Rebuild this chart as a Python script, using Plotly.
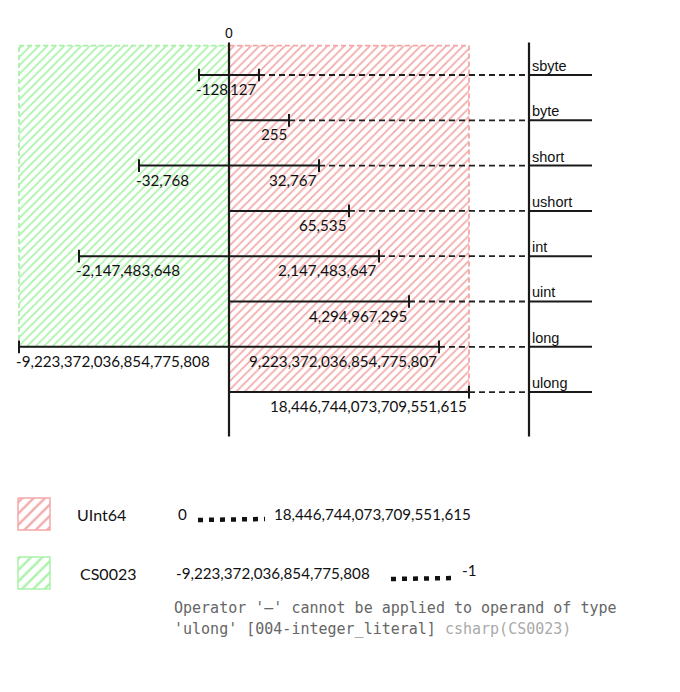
import plotly.graph_objects as go

# ---- data ----
types = ["sbyte", "byte", "short", "ushort", "int", "uint", "long", "ulong"]
mins = [-128, 0, -32768, 0, -2147483648, 0, -9223372036854775808, 0]
maxs = [127, 255, 32767, 65535, 2147483647, 4294967295,
        9223372036854775807, 18446744073709551615]
legend_names = ["UInt64", "CS0023"]
legend_ranges = [("0", "18,446,744,073,709,551,615"),
                 ("-9,223,372,036,854,775,808", "-1")]
error_line1 = "Operator '\u2013' cannot be applied to operand of type"
error_line2 = "'ulong' [004-integer_literal] "
error_src = "csharp(CS0023)"

# ---- ordinal (rank) scale: each distinct magnitude gets one step ----
sorted_max = sorted(maxs)
rank = {v: i + 1 for i, v in enumerate(sorted_max)}
pos_max = [rank[m] for m in maxs]
pos_min = [(-rank[M] if m < 0 else 0) for m, M in zip(mins, maxs)]
rows = list(range(len(types)))
right_axis = max(pos_max) + 2
W, H = 680, 692

RED = "#f09c9c"
GREEN = "#9cf09c"
RED_EDGE = "#f2a8a8"
GREEN_EDGE = "#a8f2a8"
INK = "#1a1a1a"

fig = go.Figure()

# background regions
neg_rows = [r for r, m in zip(rows, mins) if m < 0]
top = -0.65
gx0 = min(pos_min)
gy1 = max(neg_rows)
PAT = dict(shape="/", fgopacity=0.85, bgcolor="white", size=6, solidity=0.3)
fig.add_trace(go.Scatter(
    x=[gx0, 0, 0, gx0, gx0], y=[top, top, gy1, gy1, top], mode="lines",
    fill="toself", fillcolor="rgba(0,0,0,0)",
    fillpattern=dict(fgcolor=GREEN, **PAT),
    line=dict(color=GREEN_EDGE, width=1.8, dash="5px,3px"), hoverinfo="skip", showlegend=False))
rx1 = max(pos_max)
ry1 = max(rows)
fig.add_trace(go.Scatter(
    x=[0, rx1, rx1, 0, 0], y=[top, top, ry1, ry1, top], mode="lines",
    fill="toself", fillcolor="rgba(0,0,0,0)",
    fillpattern=dict(fgcolor=RED, **PAT),
    line=dict(color=RED_EDGE, width=1.8, dash="5px,3px"), hoverinfo="skip", showlegend=False))

# dashed leaders from max to right axis
dx, dy = [], []
for r, pm in zip(rows, pos_max):
    dx += [pm, right_axis, None]
    dy += [r, r, None]
fig.add_trace(go.Scatter(x=dx, y=dy, mode="lines",
                         line=dict(color="#222", width=1.8, dash="6px,4px"),
                         hoverinfo="skip", showlegend=False))

# range bars
bx, by = [], []
for r, a, b in zip(rows, pos_min, pos_max):
    bx += [a, b, None]
    by += [r, r, None]
    for p in ([a, b] if a != 0 else [b]):
        bx += [p, p, None]
        by += [r - 0.14, r + 0.14, None]
fig.add_trace(go.Scatter(x=bx, y=by, mode="lines", line=dict(color=INK, width=2),
                         hoverinfo="skip", showlegend=False))

# axes lines (zero axis and category axis)
ax_top, ax_bot = -0.72, max(rows) + 0.98
fig.add_trace(go.Scatter(x=[0, 0, None, right_axis, right_axis],
                         y=[ax_top, ax_bot, None, ax_top, ax_bot], mode="lines",
                         line=dict(color=INK, width=2.2), hoverinfo="skip", showlegend=False))
# category tick lines
tx, ty = [], []
for r in rows:
    tx += [right_axis, right_axis + 2.1, None]
    ty += [r, r, None]
fig.add_trace(go.Scatter(x=tx, y=ty, mode="lines", line=dict(color=INK, width=2),
                         hoverinfo="skip", showlegend=False))

ann = []
LBL = dict(family="Lato, Open Sans, sans-serif", size=15.2, color="#111")
CAT = dict(family="Liberation Sans, Arial", size=14.5, color="#111")
for r, m, M, a, b, t in zip(rows, mins, maxs, pos_min, pos_max, types):
    ann.append(dict(x=b, y=r + 0.31, text=f"{M:,}", xanchor="right", yanchor="middle",
                    xshift=0, showarrow=False, font=LBL))
    if m < 0:
        ann.append(dict(x=a, y=r + 0.31, text=f"{m:,}", xanchor="left", yanchor="middle",
                        xshift=-5, showarrow=False, font=LBL))
    ann.append(dict(x=right_axis, y=r - 0.2, text=t, xanchor="left", yanchor="middle",
                    xshift=1, showarrow=False, font=CAT))
ann.append(dict(x=0, y=-0.93, text="0", xanchor="center", yanchor="middle", showarrow=False,
                font=dict(family="Liberation Sans, Arial", size=14, color="#111")))

# ---- legend (paper coordinates) ----
def px(x):
    return x / W

def py(y):
    return 1 - y / H

shapes = []
leg_y = [514, 573]
leg_cols = [(RED, RED_EDGE), (GREEN, GREEN_EDGE)]
for i, name in enumerate(legend_names):
    yc = leg_y[i]
    fig.add_trace(go.Scatter(
        x=[px(18), px(50), px(50), px(18), px(18)],
        y=[py(yc - 16), py(yc - 16), py(yc + 16), py(yc + 16), py(yc - 16)],
        xaxis="x2", yaxis="y2", mode="lines", fill="toself", fillcolor="rgba(0,0,0,0)",
        fillpattern=dict(shape="/", fgcolor=leg_cols[i][0], fgopacity=0.85, bgcolor="white",
                         size=8, solidity=0.3),
        line=dict(color=leg_cols[i][1], width=1.5), hoverinfo="skip", showlegend=False))
    ann.append(dict(xref="paper", yref="paper", x=px(75 if i == 0 else 78), y=py(yc),
                    text=name, xanchor="left", yanchor="middle", showarrow=False,
                    font=dict(family="Lato, sans-serif", size=16, color="#111")))
lo_x = [176, 174]
dot_x = [(198, 265), (391, 455)]
hi_x = [272, 460]
for i, (lo, hi) in enumerate(legend_ranges):
    yc = leg_y[i]
    ann.append(dict(xref="paper", yref="paper", x=px(lo_x[i]), y=py(yc), text=lo,
                    xanchor="left", yanchor="middle", showarrow=False, font=LBL))
    ann.append(dict(xref="paper", yref="paper", x=px(hi_x[i]), y=py(yc - (3 if i else 0)),
                    text=hi, xanchor="left", yanchor="middle", showarrow=False, font=LBL))
    shapes.append(dict(type="line", xref="paper", yref="paper",
                       x0=px(dot_x[i][0]), x1=px(dot_x[i][1]),
                       y0=py(yc + 6), y1=py(yc + 5),
                       line=dict(color="#111", width=4.5, dash="5px,6px")))

MONO = dict(family="DejaVu Sans Mono, monospace", size=15, color="#666")
ann.append(dict(xref="paper", yref="paper", x=px(172), y=py(608), text=error_line1,
                xanchor="left", yanchor="middle", showarrow=False, font=MONO))
ann.append(dict(xref="paper", yref="paper", x=px(172), y=py(629),
                text=error_line2 + f"<span style='color:#aaa'>{error_src}</span>",
                xanchor="left", yanchor="middle", showarrow=False, font=MONO))

x0 = -229 / 30
x1 = (W - 229) / 30
y0 = -75 / 45.3
y1 = (H - 75) / 45.3
fig.update_layout(
    width=W, height=H, margin=dict(l=0, r=0, t=0, b=0),
    plot_bgcolor="white", paper_bgcolor="white",
    xaxis=dict(range=[x0, x1], visible=False, domain=[0, 1]),
    yaxis=dict(range=[y1, y0], visible=False, domain=[0, 1]),
    xaxis2=dict(range=[0, 1], visible=False, domain=[0, 1], overlaying="x"),
    yaxis2=dict(range=[0, 1], visible=False, domain=[0, 1], overlaying="y"),
    annotations=ann, shapes=shapes, showlegend=False,
)
fig.write_html("out.html")
